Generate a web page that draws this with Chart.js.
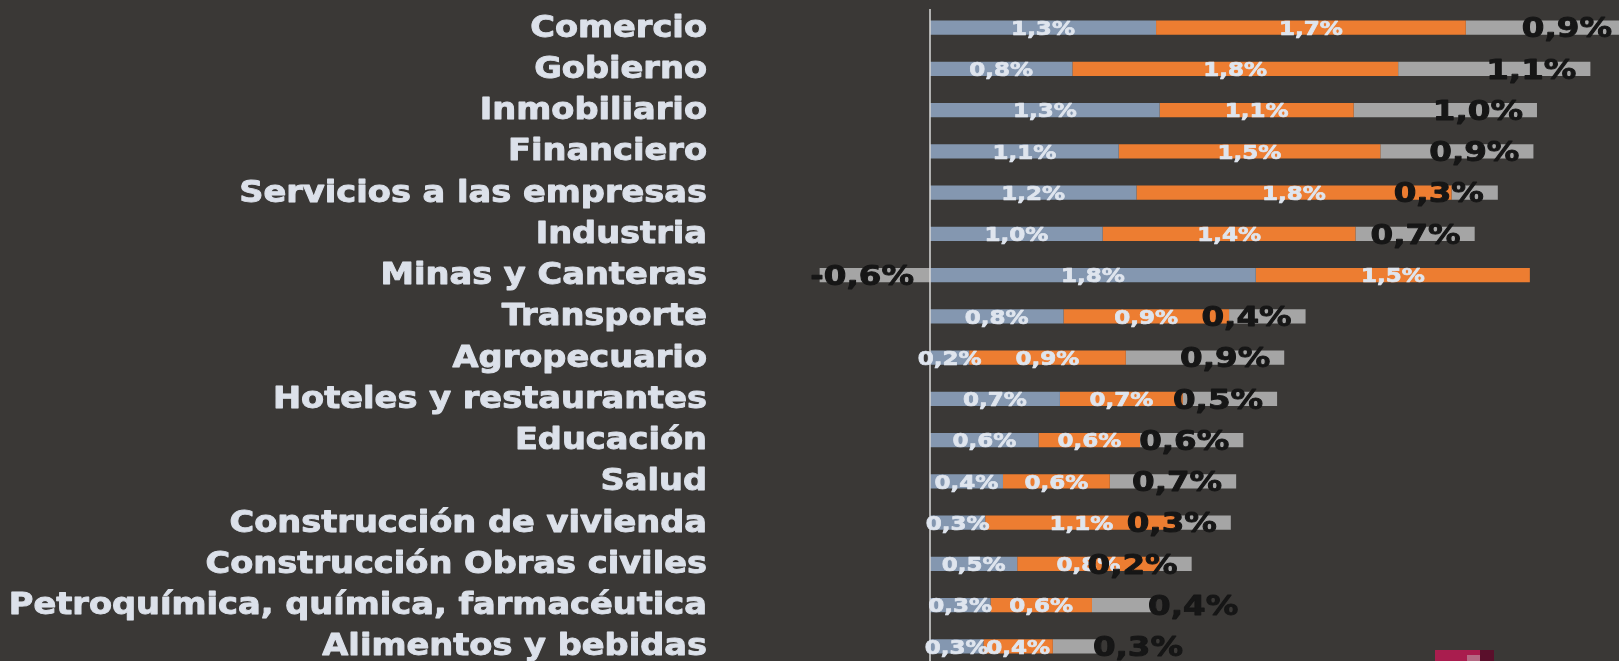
<!DOCTYPE html>
<html>
<head>
<meta charset="utf-8">
<script src="https://cdn.jsdelivr.net/npm/chart.js@4/dist/chart.umd.min.js"></script>
<style>
    html, body { margin: 0; padding: 0; background: #3a3836; overflow: hidden; width: 1619px; height: 661px; }
    #wrap { position: absolute; left: 0; top: 0; width: 1642px; height: 667px; }
    .logo { position: absolute; }
</style>
</head>
<body>
<div id="wrap"><canvas id="chart" width="1642" height="667"></canvas></div>
<div class="logo" style="left:1435px;top:650px;width:45px;height:11px;background:#a91d4e"></div>
<div class="logo" style="left:1480px;top:650px;width:14px;height:11px;background:#5a0f2b"></div>
<div class="logo" style="left:1467px;top:655px;width:13px;height:6px;background:#b56a84"></div>
<script>
// Sectors (top to bottom)
const categories = [
    'Comercio', 'Gobierno', 'Inmobiliario', 'Financiero', 'Servicios a las empresas',
    'Industria', 'Minas y Canteras', 'Transporte', 'Agropecuario', 'Hoteles y restaurantes',
    'Educación', 'Salud', 'Construcción de vivienda', 'Construcción Obras civiles',
    'Petroquímica, química, farmacéutica', 'Alimentos y bebidas'
];

// Three contributions per sector (%)
const serie1 = [1.27, 0.80, 1.29, 1.06, 1.16, 0.97, 1.83, 0.75, 0.22, 0.73, 0.61, 0.41, 0.31, 0.49, 0.34, 0.30];
const serie2 = [1.74, 1.83, 1.09, 1.47, 1.77, 1.42, 1.54, 0.93, 0.88, 0.69, 0.57, 0.60, 1.08, 0.80, 0.57, 0.39];
const serie3 = [0.90, 1.08, 1.03, 0.86, 0.26, 0.67, -0.62, 0.43, 0.89, 0.53, 0.58, 0.71, 0.30, 0.18, 0.36, 0.27];

// gray labels that sit past the end of their bar
const outsideLabels = ['Petroquímica, química, farmacéutica', 'Alimentos y bebidas'];

const fmt = v => v.toFixed(1).replace('.', ',') + '%';

// text squeezed wider, with a thin stroke to make it heavier
function stretchedText(ctx, text, x, y, sx, weight) {
    ctx.save();
    ctx.translate(x, y);
    ctx.scale(sx, 1);
    ctx.fillText(text, 0, 0);
    if (weight) {
        ctx.lineWidth = weight;
        ctx.strokeStyle = ctx.fillStyle;
        ctx.lineJoin = 'round';
        ctx.strokeText(text, 0, 0);
    }
    ctx.restore();
}

const labelsPlugin = {
    id: 'labelsPlugin',
    afterDatasetsDraw(chart) {
        const ctx = chart.ctx;
        const xs = chart.scales.x;
        const ys = chart.scales.y;
        const area = chart.chartArea;

        // zero axis line
        const x0 = xs.getPixelForValue(0);
        ctx.save();
        ctx.strokeStyle = '#d9d9d9';
        ctx.lineWidth = 1.5;
        ctx.beginPath();
        ctx.moveTo(x0, area.top + 2);
        ctx.lineTo(x0, area.bottom);
        ctx.stroke();

        ctx.textBaseline = 'alphabetic';

        // category names
        ctx.fillStyle = '#dce1ea';
        ctx.font = 'bold 29.5px "DejaVu Sans"';
        ctx.textAlign = 'right';
        chart.data.labels.forEach((lab, i) => {
            stretchedText(ctx, lab, 707, ys.getPixelForTick(i) + 9, 1.14, 0.9);
        });

        // labels inside blue and orange segments
        ctx.fillStyle = '#dfe5ee';
        ctx.font = 'bold 19.5px "DejaVu Sans"';
        ctx.textAlign = 'center';
        [0, 1].forEach(d => {
            const meta = chart.getDatasetMeta(d);
            meta.data.forEach((el, i) => {
                const v = chart.data.datasets[d].data[i];
                stretchedText(ctx, fmt(v), (el.x + el.base) / 2, el.y + 7.2, 1.18, 0.7);
            });
        });

        // gray segment labels
        ctx.fillStyle = '#161616';
        ctx.font = 'bold 26px "DejaVu Sans"';
        const meta = chart.getDatasetMeta(2);
        meta.data.forEach((el, i) => {
            const v = chart.data.datasets[2].data[i];
            if (outsideLabels.includes(chart.data.labels[i])) {
                ctx.textAlign = 'left';
                stretchedText(ctx, fmt(v), el.x - 8, el.y + 9.8, 1.25, 0.9);
            } else {
                ctx.textAlign = 'right';
                const right = v < 0 ? el.base - 16 : el.x - 14;
                stretchedText(ctx, fmt(v), right, el.y + 9.8, 1.25, 0.9);
            }
        });
        ctx.restore();
    }
};

const ctx = document.getElementById('chart').getContext('2d');
const chart = new Chart(ctx, {
    type: 'bar',
    data: {
        labels: categories,
        datasets: [
            { label: 'Serie 1', data: serie1, backgroundColor: '#8497b0' },
            { label: 'Serie 2', data: serie2, backgroundColor: '#ed7d31' },
            { label: 'Serie 3', data: serie3, backgroundColor: '#a5a5a5' }
        ]
    },
    options: {
        indexAxis: 'y',
        responsive: false,
        animation: false,
        devicePixelRatio: 1,
        layout: { padding: { left: 752, top: 7, right: 0, bottom: 0 } },
        datasets: {
            bar: { categoryPercentage: 1, barPercentage: 0.35, borderWidth: 0 }
        },
        scales: {
            x: { stacked: true, min: -1, max: 4, display: false },
            y: { stacked: true, display: false }
        },
        plugins: {
            legend: { display: false },
            tooltip: { enabled: false }
        }
    },
    plugins: [labelsPlugin]
});
</script>
</body>
</html>
